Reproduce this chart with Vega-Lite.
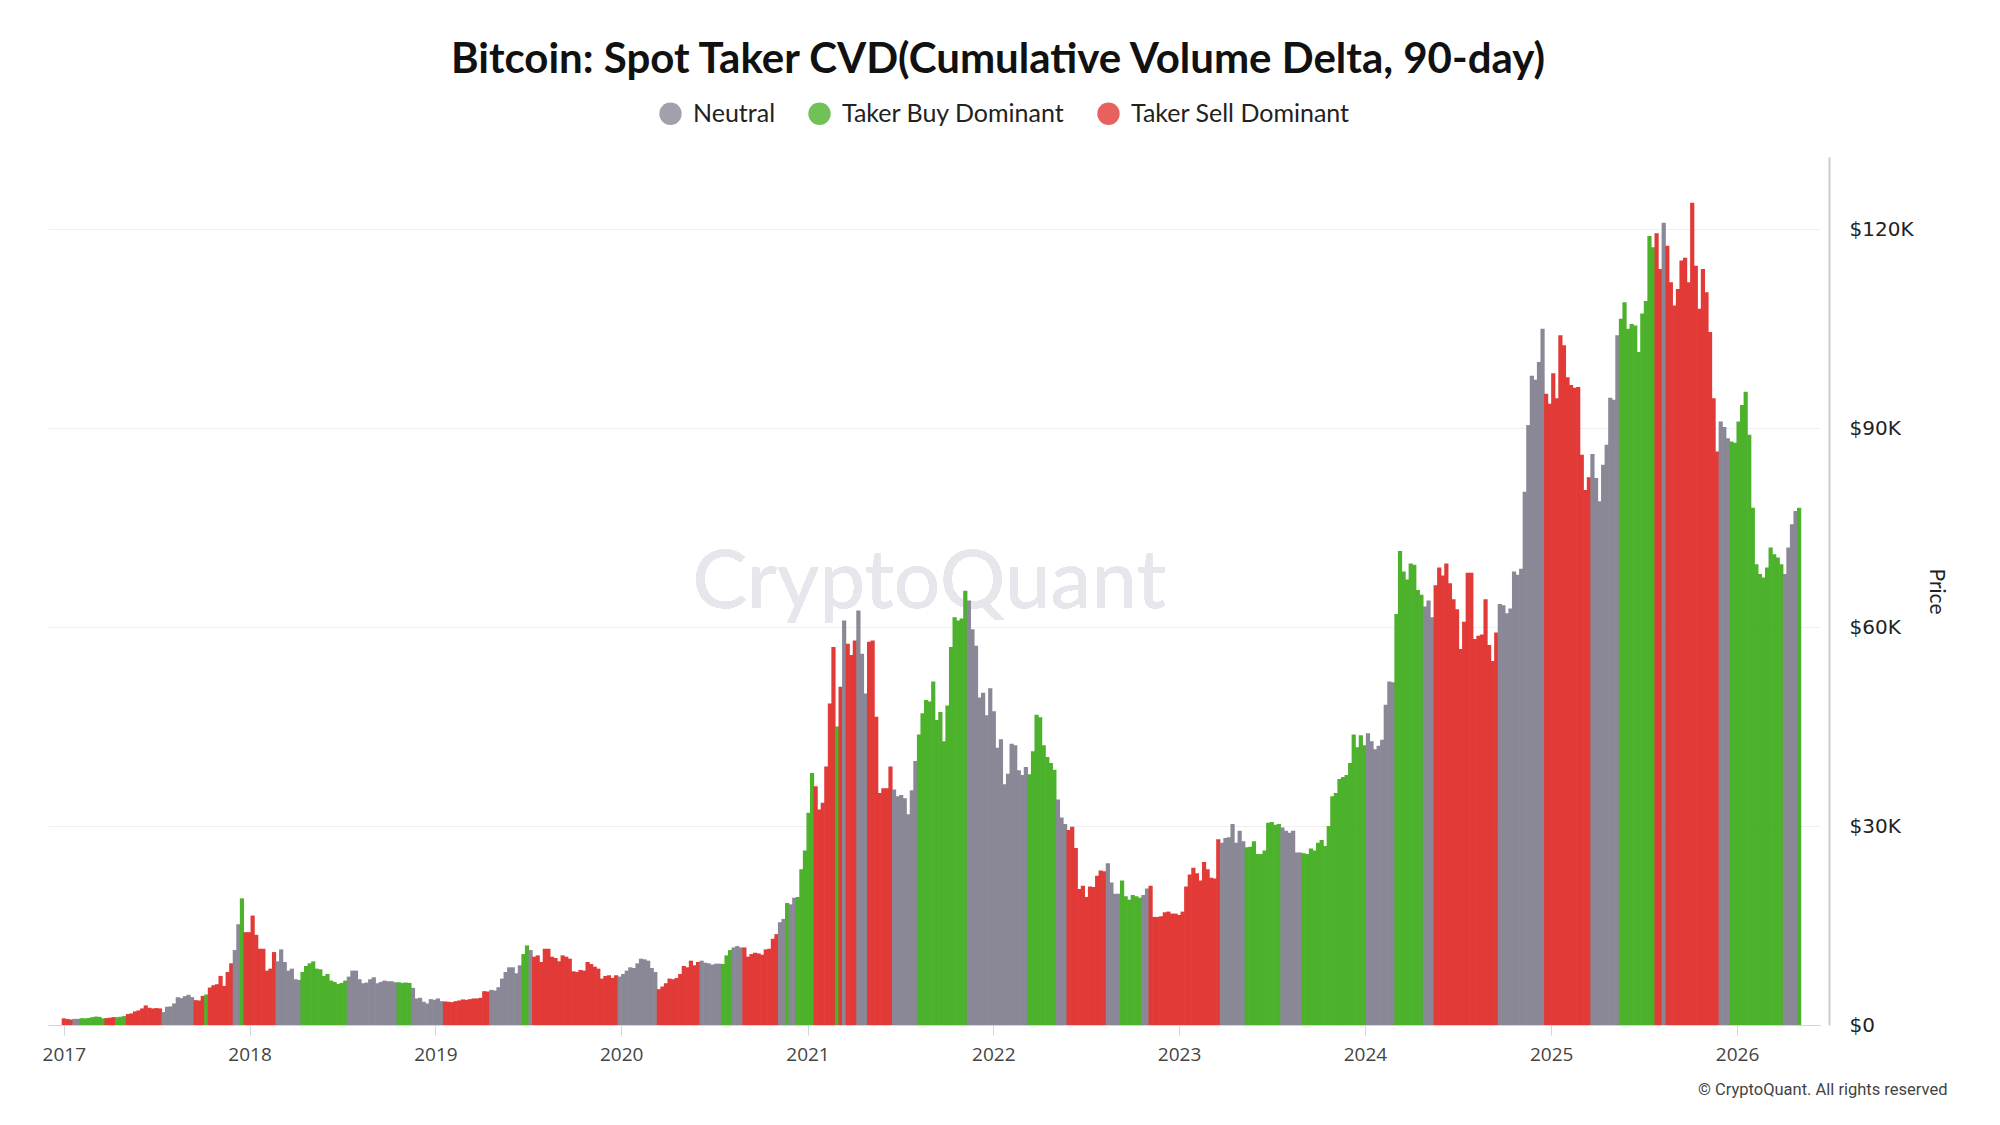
{
"$schema":"https://vega.github.io/schema/vega-lite/v6.json",
"width":1772,"height":868,
"autosize":{"type":"none"},
"padding":{"left":48,"top":157,"right":180,"bottom":100},
"background":"white",
"title":{"text":"Bitcoin: Spot Taker CVD(Cumulative Volume Delta, 90-day)","font":"Lato","fontSize":42,"fontWeight":"bold","color":"#111111","anchor":"middle","frame":"group","dx":64,"offset":19},
"config":{"view":{"stroke":null}},
"data":{"values":[
{"d":"2017-01-01","p":1000,"c":"S"},{"d":"2017-01-08","p":900,"c":"S"},{"d":"2017-01-15","p":820,"c":"S"},{"d":"2017-01-22","p":920,"c":"N"},{"d":"2017-01-29","p":920,"c":"N"},
{"d":"2017-02-05","p":1020,"c":"B"},{"d":"2017-02-12","p":1000,"c":"B"},{"d":"2017-02-19","p":1050,"c":"B"},{"d":"2017-02-26","p":1180,"c":"B"},{"d":"2017-03-05","p":1270,"c":"B"},{"d":"2017-03-12","p":1230,"c":"B"},{"d":"2017-03-19","p":1000,"c":"B"},
{"d":"2017-03-26","p":1040,"c":"S"},{"d":"2017-04-02","p":1100,"c":"S"},{"d":"2017-04-09","p":1190,"c":"S"},{"d":"2017-04-16","p":1180,"c":"B"},{"d":"2017-04-23","p":1250,"c":"B"},{"d":"2017-04-30","p":1350,"c":"B"},
{"d":"2017-05-07","p":1650,"c":"S"},{"d":"2017-05-14","p":1750,"c":"S"},{"d":"2017-05-21","p":2050,"c":"S"},{"d":"2017-05-28","p":2200,"c":"S"},{"d":"2017-06-04","p":2500,"c":"S"},{"d":"2017-06-11","p":2950,"c":"S"},{"d":"2017-06-18","p":2600,"c":"S"},{"d":"2017-06-25","p":2500,"c":"S"},{"d":"2017-07-02","p":2550,"c":"S"},{"d":"2017-07-09","p":2500,"c":"S"},
{"d":"2017-07-16","p":1950,"c":"N"},{"d":"2017-07-23","p":2750,"c":"N"},{"d":"2017-07-30","p":2800,"c":"N"},{"d":"2017-08-06","p":3250,"c":"N"},{"d":"2017-08-13","p":4200,"c":"N"},{"d":"2017-08-20","p":4050,"c":"N"},{"d":"2017-08-27","p":4350,"c":"N"},{"d":"2017-09-03","p":4550,"c":"N"},{"d":"2017-09-10","p":4200,"c":"N"},
{"d":"2017-09-17","p":3750,"c":"S"},{"d":"2017-09-24","p":3700,"c":"S"},{"d":"2017-10-01","p":4400,"c":"S"},{"d":"2017-10-08","p":4600,"c":"B"},{"d":"2017-10-15","p":5650,"c":"S"},{"d":"2017-10-22","p":6000,"c":"S"},{"d":"2017-10-29","p":6150,"c":"S"},{"d":"2017-11-05","p":7400,"c":"S"},{"d":"2017-11-12","p":5900,"c":"S"},{"d":"2017-11-19","p":8000,"c":"S"},{"d":"2017-11-26","p":9300,"c":"S"},
{"d":"2017-12-03","p":11300,"c":"N"},{"d":"2017-12-10","p":15200,"c":"N"},{"d":"2017-12-17","p":19100,"c":"B"},{"d":"2017-12-24","p":14000,"c":"S"},{"d":"2017-12-31","p":14000,"c":"S"},
{"d":"2018-01-07","p":16500,"c":"S"},{"d":"2018-01-14","p":13600,"c":"S"},{"d":"2018-01-21","p":11500,"c":"S"},{"d":"2018-01-28","p":11500,"c":"S"},{"d":"2018-02-04","p":8200,"c":"S"},{"d":"2018-02-11","p":8500,"c":"S"},{"d":"2018-02-18","p":11000,"c":"S"},
{"d":"2018-02-25","p":9600,"c":"N"},{"d":"2018-03-04","p":11400,"c":"N"},{"d":"2018-03-11","p":9500,"c":"N"},{"d":"2018-03-18","p":8200,"c":"N"},{"d":"2018-03-25","p":8500,"c":"N"},{"d":"2018-04-01","p":6900,"c":"N"},{"d":"2018-04-08","p":6800,"c":"N"},
{"d":"2018-04-15","p":8000,"c":"B"},{"d":"2018-04-22","p":8900,"c":"B"},{"d":"2018-04-29","p":9300,"c":"B"},{"d":"2018-05-06","p":9600,"c":"B"},{"d":"2018-05-13","p":8500,"c":"B"},{"d":"2018-05-20","p":8400,"c":"B"},{"d":"2018-05-27","p":7400,"c":"B"},{"d":"2018-06-03","p":7700,"c":"B"},{"d":"2018-06-10","p":6700,"c":"B"},{"d":"2018-06-17","p":6500,"c":"B"},{"d":"2018-06-24","p":6200,"c":"B"},{"d":"2018-07-01","p":6350,"c":"B"},{"d":"2018-07-08","p":6700,"c":"B"},
{"d":"2018-07-15","p":7300,"c":"N"},{"d":"2018-07-22","p":8200,"c":"N"},{"d":"2018-07-29","p":8200,"c":"N"},{"d":"2018-08-05","p":6900,"c":"N"},{"d":"2018-08-12","p":6300,"c":"N"},{"d":"2018-08-19","p":6400,"c":"N"},{"d":"2018-08-26","p":6900,"c":"N"},{"d":"2018-09-02","p":7200,"c":"N"},{"d":"2018-09-09","p":6300,"c":"N"},{"d":"2018-09-16","p":6500,"c":"N"},{"d":"2018-09-23","p":6700,"c":"N"},{"d":"2018-09-30","p":6600,"c":"N"},{"d":"2018-10-07","p":6600,"c":"N"},{"d":"2018-10-14","p":6450,"c":"N"},
{"d":"2018-10-21","p":6450,"c":"B"},{"d":"2018-10-28","p":6350,"c":"B"},{"d":"2018-11-04","p":6400,"c":"B"},{"d":"2018-11-11","p":6350,"c":"B"},
{"d":"2018-11-18","p":5600,"c":"N"},{"d":"2018-11-25","p":4000,"c":"N"},{"d":"2018-12-02","p":4100,"c":"N"},{"d":"2018-12-09","p":3500,"c":"N"},{"d":"2018-12-16","p":3250,"c":"N"},{"d":"2018-12-23","p":3900,"c":"N"},{"d":"2018-12-30","p":3800,"c":"N"},
{"d":"2019-01-06","p":4000,"c":"N"},{"d":"2019-01-13","p":3600,"c":"N"},
{"d":"2019-01-20","p":3550,"c":"S"},{"d":"2019-01-27","p":3500,"c":"S"},{"d":"2019-02-03","p":3450,"c":"S"},{"d":"2019-02-10","p":3600,"c":"S"},{"d":"2019-02-17","p":3700,"c":"S"},{"d":"2019-02-24","p":3850,"c":"S"},{"d":"2019-03-03","p":3800,"c":"S"},{"d":"2019-03-10","p":3900,"c":"S"},{"d":"2019-03-17","p":4000,"c":"S"},{"d":"2019-03-24","p":4000,"c":"S"},{"d":"2019-03-31","p":4100,"c":"S"},{"d":"2019-04-07","p":5100,"c":"S"},{"d":"2019-04-14","p":5050,"c":"S"},
{"d":"2019-04-21","p":5300,"c":"N"},{"d":"2019-04-28","p":5200,"c":"N"},{"d":"2019-05-05","p":5700,"c":"N"},{"d":"2019-05-12","p":7000,"c":"N"},{"d":"2019-05-19","p":8000,"c":"N"},{"d":"2019-05-26","p":8700,"c":"N"},{"d":"2019-06-02","p":8700,"c":"N"},{"d":"2019-06-09","p":7800,"c":"N"},{"d":"2019-06-16","p":9000,"c":"N"},
{"d":"2019-06-23","p":10700,"c":"B"},{"d":"2019-06-30","p":12000,"c":"B"},{"d":"2019-07-07","p":11300,"c":"N"},
{"d":"2019-07-14","p":10300,"c":"S"},{"d":"2019-07-21","p":10500,"c":"S"},{"d":"2019-07-28","p":9500,"c":"S"},{"d":"2019-08-04","p":11500,"c":"S"},{"d":"2019-08-11","p":11500,"c":"S"},{"d":"2019-08-18","p":10300,"c":"S"},{"d":"2019-08-25","p":10100,"c":"S"},{"d":"2019-09-01","p":9600,"c":"S"},{"d":"2019-09-08","p":10500,"c":"S"},{"d":"2019-09-15","p":10300,"c":"S"},{"d":"2019-09-22","p":10000,"c":"S"},{"d":"2019-09-29","p":8100,"c":"S"},{"d":"2019-10-06","p":8000,"c":"S"},{"d":"2019-10-13","p":8300,"c":"S"},{"d":"2019-10-20","p":8200,"c":"S"},{"d":"2019-10-27","p":9500,"c":"S"},{"d":"2019-11-03","p":9200,"c":"S"},{"d":"2019-11-10","p":8800,"c":"S"},{"d":"2019-11-17","p":8500,"c":"S"},{"d":"2019-11-24","p":7000,"c":"S"},{"d":"2019-12-01","p":7400,"c":"S"},{"d":"2019-12-08","p":7500,"c":"S"},{"d":"2019-12-15","p":7100,"c":"S"},{"d":"2019-12-22","p":7500,"c":"S"},
{"d":"2019-12-29","p":7300,"c":"N"},{"d":"2020-01-05","p":7700,"c":"N"},{"d":"2020-01-12","p":8200,"c":"N"},{"d":"2020-01-19","p":8700,"c":"N"},{"d":"2020-01-26","p":8600,"c":"N"},{"d":"2020-02-02","p":9300,"c":"N"},{"d":"2020-02-09","p":10000,"c":"N"},{"d":"2020-02-16","p":9900,"c":"N"},{"d":"2020-02-23","p":9700,"c":"N"},{"d":"2020-03-01","p":8600,"c":"N"},{"d":"2020-03-08","p":8000,"c":"N"},
{"d":"2020-03-15","p":5400,"c":"S"},{"d":"2020-03-22","p":5800,"c":"S"},{"d":"2020-03-29","p":6300,"c":"S"},{"d":"2020-04-05","p":7000,"c":"S"},{"d":"2020-04-12","p":6900,"c":"S"},{"d":"2020-04-19","p":7100,"c":"S"},{"d":"2020-04-26","p":7700,"c":"S"},{"d":"2020-05-03","p":8900,"c":"S"},{"d":"2020-05-10","p":8700,"c":"S"},{"d":"2020-05-17","p":9700,"c":"S"},{"d":"2020-05-24","p":9000,"c":"S"},{"d":"2020-05-31","p":9500,"c":"S"},
{"d":"2020-06-07","p":9700,"c":"N"},{"d":"2020-06-14","p":9400,"c":"N"},{"d":"2020-06-21","p":9300,"c":"N"},{"d":"2020-06-28","p":9100,"c":"N"},{"d":"2020-07-05","p":9250,"c":"N"},{"d":"2020-07-12","p":9250,"c":"N"},
{"d":"2020-07-19","p":9200,"c":"B"},{"d":"2020-07-26","p":10500,"c":"B"},{"d":"2020-08-02","p":11300,"c":"B"},{"d":"2020-08-09","p":11700,"c":"N"},{"d":"2020-08-16","p":11900,"c":"N"},{"d":"2020-08-23","p":11700,"c":"N"},
{"d":"2020-08-30","p":11700,"c":"S"},{"d":"2020-09-06","p":10300,"c":"S"},{"d":"2020-09-13","p":10700,"c":"S"},{"d":"2020-09-20","p":10900,"c":"S"},{"d":"2020-09-27","p":10800,"c":"S"},{"d":"2020-10-04","p":10600,"c":"S"},{"d":"2020-10-11","p":11400,"c":"S"},{"d":"2020-10-18","p":11500,"c":"S"},{"d":"2020-10-25","p":13000,"c":"S"},{"d":"2020-11-01","p":13700,"c":"S"},
{"d":"2020-11-08","p":15500,"c":"N"},{"d":"2020-11-15","p":16000,"c":"N"},{"d":"2020-11-22","p":18400,"c":"B"},{"d":"2020-11-29","p":18200,"c":"N"},{"d":"2020-12-06","p":19200,"c":"N"},
{"d":"2020-12-13","p":19300,"c":"B"},{"d":"2020-12-20","p":23500,"c":"B"},{"d":"2020-12-27","p":26300,"c":"B"},{"d":"2021-01-03","p":32000,"c":"B"},{"d":"2021-01-10","p":38000,"c":"B"},
{"d":"2021-01-17","p":36000,"c":"S"},{"d":"2021-01-24","p":32500,"c":"S"},{"d":"2021-01-31","p":33500,"c":"S"},{"d":"2021-02-07","p":39000,"c":"S"},{"d":"2021-02-14","p":48500,"c":"S"},{"d":"2021-02-21","p":57000,"c":"S"},
{"d":"2021-02-28","p":45000,"c":"B"},{"d":"2021-03-07","p":51000,"c":"S"},{"d":"2021-03-14","p":61000,"c":"N"},{"d":"2021-03-21","p":57500,"c":"S"},{"d":"2021-03-28","p":55800,"c":"S"},{"d":"2021-04-04","p":58000,"c":"S"},
{"d":"2021-04-11","p":62500,"c":"N"},{"d":"2021-04-18","p":56000,"c":"N"},{"d":"2021-04-25","p":50000,"c":"N"},
{"d":"2021-05-02","p":57800,"c":"S"},{"d":"2021-05-09","p":58000,"c":"S"},{"d":"2021-05-16","p":46500,"c":"S"},{"d":"2021-05-23","p":35000,"c":"S"},{"d":"2021-05-30","p":35700,"c":"S"},{"d":"2021-06-06","p":35700,"c":"S"},{"d":"2021-06-13","p":39000,"c":"S"},
{"d":"2021-06-20","p":35500,"c":"N"},{"d":"2021-06-27","p":34500,"c":"N"},{"d":"2021-07-04","p":34700,"c":"N"},{"d":"2021-07-11","p":34200,"c":"N"},{"d":"2021-07-18","p":31800,"c":"N"},{"d":"2021-07-25","p":35400,"c":"N"},{"d":"2021-08-01","p":39800,"c":"N"},
{"d":"2021-08-08","p":43800,"c":"B"},{"d":"2021-08-15","p":47000,"c":"B"},{"d":"2021-08-22","p":49000,"c":"B"},{"d":"2021-08-29","p":48800,"c":"B"},{"d":"2021-09-05","p":51800,"c":"B"},{"d":"2021-09-12","p":46000,"c":"B"},{"d":"2021-09-19","p":47200,"c":"B"},{"d":"2021-09-26","p":42800,"c":"B"},{"d":"2021-10-03","p":48200,"c":"B"},{"d":"2021-10-10","p":57000,"c":"B"},{"d":"2021-10-17","p":61500,"c":"B"},{"d":"2021-10-24","p":61000,"c":"B"},{"d":"2021-10-31","p":61300,"c":"B"},{"d":"2021-11-07","p":65500,"c":"B"},
{"d":"2021-11-14","p":64000,"c":"N"},{"d":"2021-11-21","p":59700,"c":"N"},{"d":"2021-11-28","p":57200,"c":"N"},{"d":"2021-12-05","p":49400,"c":"N"},{"d":"2021-12-12","p":50100,"c":"N"},{"d":"2021-12-19","p":46700,"c":"N"},{"d":"2021-12-26","p":50800,"c":"N"},
{"d":"2022-01-02","p":47300,"c":"N"},{"d":"2022-01-09","p":41800,"c":"N"},{"d":"2022-01-16","p":43100,"c":"N"},{"d":"2022-01-23","p":36300,"c":"N"},{"d":"2022-01-30","p":37900,"c":"N"},{"d":"2022-02-06","p":42400,"c":"N"},{"d":"2022-02-13","p":42200,"c":"N"},{"d":"2022-02-20","p":38400,"c":"N"},{"d":"2022-02-27","p":37700,"c":"N"},{"d":"2022-03-06","p":38900,"c":"N"},
{"d":"2022-03-13","p":37800,"c":"B"},{"d":"2022-03-20","p":41300,"c":"B"},{"d":"2022-03-27","p":46800,"c":"B"},{"d":"2022-04-03","p":46400,"c":"B"},{"d":"2022-04-10","p":42200,"c":"B"},{"d":"2022-04-17","p":40400,"c":"B"},{"d":"2022-04-24","p":39500,"c":"B"},{"d":"2022-05-01","p":38500,"c":"B"},
{"d":"2022-05-08","p":34000,"c":"N"},{"d":"2022-05-15","p":31300,"c":"N"},{"d":"2022-05-22","p":30300,"c":"N"},
{"d":"2022-05-29","p":29400,"c":"S"},{"d":"2022-06-05","p":29900,"c":"S"},{"d":"2022-06-12","p":26700,"c":"S"},{"d":"2022-06-19","p":20500,"c":"S"},{"d":"2022-06-26","p":21000,"c":"S"},{"d":"2022-07-03","p":19300,"c":"S"},{"d":"2022-07-10","p":20900,"c":"S"},{"d":"2022-07-17","p":20800,"c":"S"},{"d":"2022-07-24","p":22500,"c":"S"},{"d":"2022-07-31","p":23300,"c":"S"},{"d":"2022-08-07","p":23200,"c":"S"},
{"d":"2022-08-14","p":24400,"c":"N"},{"d":"2022-08-21","p":21500,"c":"N"},{"d":"2022-08-28","p":19800,"c":"N"},{"d":"2022-09-04","p":19800,"c":"N"},
{"d":"2022-09-11","p":21800,"c":"B"},{"d":"2022-09-18","p":19400,"c":"B"},{"d":"2022-09-25","p":18900,"c":"B"},{"d":"2022-10-02","p":19600,"c":"B"},{"d":"2022-10-09","p":19400,"c":"B"},{"d":"2022-10-16","p":19200,"c":"B"},
{"d":"2022-10-23","p":19600,"c":"N"},{"d":"2022-10-30","p":20600,"c":"N"},
{"d":"2022-11-06","p":21000,"c":"S"},{"d":"2022-11-13","p":16300,"c":"S"},{"d":"2022-11-20","p":16300,"c":"S"},{"d":"2022-11-27","p":16400,"c":"S"},{"d":"2022-12-04","p":17000,"c":"S"},{"d":"2022-12-11","p":17100,"c":"S"},{"d":"2022-12-18","p":16800,"c":"S"},{"d":"2022-12-25","p":16800,"c":"S"},
{"d":"2023-01-01","p":16600,"c":"S"},{"d":"2023-01-08","p":17100,"c":"S"},{"d":"2023-01-15","p":20900,"c":"S"},{"d":"2023-01-22","p":22700,"c":"S"},{"d":"2023-01-29","p":23700,"c":"S"},{"d":"2023-02-05","p":22900,"c":"S"},{"d":"2023-02-12","p":21800,"c":"S"},{"d":"2023-02-19","p":24600,"c":"S"},{"d":"2023-02-26","p":23500,"c":"S"},{"d":"2023-03-05","p":22200,"c":"S"},{"d":"2023-03-12","p":22100,"c":"S"},{"d":"2023-03-19","p":28000,"c":"S"},
{"d":"2023-03-26","p":27500,"c":"N"},{"d":"2023-04-02","p":28200,"c":"N"},{"d":"2023-04-09","p":28300,"c":"N"},{"d":"2023-04-16","p":30300,"c":"N"},{"d":"2023-04-23","p":27500,"c":"N"},{"d":"2023-04-30","p":29300,"c":"N"},{"d":"2023-05-07","p":27700,"c":"N"},
{"d":"2023-05-14","p":26800,"c":"B"},{"d":"2023-05-21","p":26900,"c":"B"},{"d":"2023-05-28","p":27700,"c":"B"},{"d":"2023-06-04","p":25800,"c":"B"},{"d":"2023-06-11","p":25800,"c":"B"},{"d":"2023-06-18","p":26300,"c":"B"},{"d":"2023-06-25","p":30500,"c":"B"},{"d":"2023-07-02","p":30600,"c":"B"},{"d":"2023-07-09","p":30200,"c":"B"},{"d":"2023-07-16","p":30300,"c":"B"},
{"d":"2023-07-23","p":29800,"c":"N"},{"d":"2023-07-30","p":29300,"c":"N"},{"d":"2023-08-06","p":29000,"c":"N"},{"d":"2023-08-13","p":29300,"c":"N"},{"d":"2023-08-20","p":26000,"c":"N"},{"d":"2023-08-27","p":26000,"c":"N"},
{"d":"2023-09-03","p":25900,"c":"B"},{"d":"2023-09-10","p":25800,"c":"B"},{"d":"2023-09-17","p":26600,"c":"B"},{"d":"2023-09-24","p":26300,"c":"B"},{"d":"2023-10-01","p":27500,"c":"B"},{"d":"2023-10-08","p":27900,"c":"B"},{"d":"2023-10-15","p":27000,"c":"B"},{"d":"2023-10-22","p":30000,"c":"B"},{"d":"2023-10-29","p":34500,"c":"B"},{"d":"2023-11-05","p":35000,"c":"B"},{"d":"2023-11-12","p":37100,"c":"B"},{"d":"2023-11-19","p":37400,"c":"B"},{"d":"2023-11-26","p":37700,"c":"B"},{"d":"2023-12-03","p":39500,"c":"B"},{"d":"2023-12-10","p":43800,"c":"B"},{"d":"2023-12-17","p":41900,"c":"B"},{"d":"2023-12-24","p":43700,"c":"B"},{"d":"2023-12-31","p":42200,"c":"B"},
{"d":"2024-01-07","p":44000,"c":"N"},{"d":"2024-01-14","p":42800,"c":"N"},{"d":"2024-01-21","p":41600,"c":"N"},{"d":"2024-01-28","p":42100,"c":"N"},{"d":"2024-02-04","p":43000,"c":"N"},{"d":"2024-02-11","p":48300,"c":"N"},{"d":"2024-02-18","p":51800,"c":"N"},{"d":"2024-02-25","p":51700,"c":"N"},
{"d":"2024-03-03","p":62000,"c":"B"},{"d":"2024-03-10","p":71500,"c":"B"},{"d":"2024-03-17","p":68400,"c":"B"},{"d":"2024-03-24","p":67200,"c":"B"},{"d":"2024-03-31","p":69600,"c":"B"},{"d":"2024-04-07","p":69400,"c":"B"},{"d":"2024-04-14","p":65600,"c":"B"},{"d":"2024-04-21","p":64900,"c":"B"},
{"d":"2024-04-28","p":63100,"c":"N"},{"d":"2024-05-05","p":64000,"c":"N"},{"d":"2024-05-12","p":61500,"c":"N"},
{"d":"2024-05-19","p":66300,"c":"S"},{"d":"2024-05-26","p":69000,"c":"S"},{"d":"2024-06-02","p":67800,"c":"S"},{"d":"2024-06-09","p":69600,"c":"S"},{"d":"2024-06-16","p":66600,"c":"S"},{"d":"2024-06-23","p":64200,"c":"S"},{"d":"2024-06-30","p":62700,"c":"S"},{"d":"2024-07-07","p":56700,"c":"S"},{"d":"2024-07-14","p":60800,"c":"S"},{"d":"2024-07-21","p":68200,"c":"S"},{"d":"2024-07-28","p":68200,"c":"S"},{"d":"2024-08-04","p":58200,"c":"S"},{"d":"2024-08-11","p":58700,"c":"S"},{"d":"2024-08-18","p":58900,"c":"S"},{"d":"2024-08-25","p":64200,"c":"S"},{"d":"2024-09-01","p":57300,"c":"S"},{"d":"2024-09-08","p":54900,"c":"S"},{"d":"2024-09-15","p":59200,"c":"S"},
{"d":"2024-09-22","p":63500,"c":"N"},{"d":"2024-09-29","p":63300,"c":"N"},{"d":"2024-10-06","p":62100,"c":"N"},{"d":"2024-10-13","p":62800,"c":"N"},{"d":"2024-10-20","p":68400,"c":"N"},{"d":"2024-10-27","p":67900,"c":"N"},{"d":"2024-11-03","p":68800,"c":"N"},{"d":"2024-11-10","p":80400,"c":"N"},{"d":"2024-11-17","p":90500,"c":"N"},{"d":"2024-11-24","p":97900,"c":"N"},{"d":"2024-12-01","p":97300,"c":"N"},{"d":"2024-12-08","p":100000,"c":"N"},{"d":"2024-12-15","p":105000,"c":"N"},
{"d":"2024-12-22","p":95200,"c":"S"},{"d":"2024-12-29","p":93700,"c":"S"},{"d":"2025-01-05","p":98300,"c":"S"},{"d":"2025-01-12","p":94500,"c":"S"},{"d":"2025-01-19","p":104000,"c":"S"},{"d":"2025-01-26","p":102500,"c":"S"},{"d":"2025-02-02","p":97700,"c":"S"},{"d":"2025-02-09","p":96500,"c":"S"},{"d":"2025-02-16","p":96100,"c":"S"},{"d":"2025-02-23","p":96200,"c":"S"},{"d":"2025-03-02","p":86000,"c":"S"},{"d":"2025-03-09","p":80700,"c":"S"},{"d":"2025-03-16","p":82600,"c":"S"},
{"d":"2025-03-23","p":86100,"c":"N"},{"d":"2025-03-30","p":82500,"c":"N"},{"d":"2025-04-06","p":79000,"c":"N"},{"d":"2025-04-13","p":84500,"c":"N"},{"d":"2025-04-20","p":87500,"c":"N"},{"d":"2025-04-27","p":94600,"c":"N"},{"d":"2025-05-04","p":94300,"c":"N"},{"d":"2025-05-11","p":104000,"c":"N"},
{"d":"2025-05-18","p":106500,"c":"B"},{"d":"2025-05-25","p":109000,"c":"B"},{"d":"2025-06-01","p":105000,"c":"B"},{"d":"2025-06-08","p":105700,"c":"B"},{"d":"2025-06-15","p":105500,"c":"B"},{"d":"2025-06-22","p":101500,"c":"B"},{"d":"2025-06-29","p":107300,"c":"B"},{"d":"2025-07-06","p":109200,"c":"B"},{"d":"2025-07-13","p":119000,"c":"B"},{"d":"2025-07-20","p":117300,"c":"B"},
{"d":"2025-07-27","p":119400,"c":"S"},{"d":"2025-08-03","p":114000,"c":"S"},{"d":"2025-08-10","p":121000,"c":"N"},
{"d":"2025-08-17","p":117500,"c":"S"},{"d":"2025-08-24","p":112000,"c":"S"},{"d":"2025-08-31","p":108500,"c":"S"},{"d":"2025-09-07","p":111000,"c":"S"},{"d":"2025-09-14","p":115300,"c":"S"},{"d":"2025-09-21","p":115700,"c":"S"},{"d":"2025-09-28","p":112000,"c":"S"},{"d":"2025-10-05","p":124000,"c":"S"},{"d":"2025-10-12","p":114500,"c":"S"},{"d":"2025-10-19","p":108000,"c":"S"},{"d":"2025-10-26","p":114000,"c":"S"},{"d":"2025-11-02","p":110500,"c":"S"},{"d":"2025-11-09","p":104500,"c":"S"},{"d":"2025-11-16","p":94500,"c":"S"},{"d":"2025-11-23","p":86500,"c":"S"},
{"d":"2025-11-30","p":91000,"c":"N"},{"d":"2025-12-07","p":90200,"c":"N"},{"d":"2025-12-14","p":88500,"c":"N"},
{"d":"2025-12-21","p":88000,"c":"B"},{"d":"2025-12-28","p":87800,"c":"B"},{"d":"2026-01-04","p":91000,"c":"B"},{"d":"2026-01-11","p":93500,"c":"B"},{"d":"2026-01-18","p":95500,"c":"B"},{"d":"2026-01-25","p":89000,"c":"B"},{"d":"2026-02-01","p":78000,"c":"B"},{"d":"2026-02-08","p":69500,"c":"B"},{"d":"2026-02-15","p":68000,"c":"B"},{"d":"2026-02-22","p":67500,"c":"B"},{"d":"2026-03-01","p":69000,"c":"B"},{"d":"2026-03-08","p":72000,"c":"B"},{"d":"2026-03-15","p":71000,"c":"B"},{"d":"2026-03-22","p":70500,"c":"B"},{"d":"2026-03-29","p":69500,"c":"B"},
{"d":"2026-04-05","p":68000,"c":"N"},{"d":"2026-04-12","p":72000,"c":"N"},{"d":"2026-04-19","p":75500,"c":"N"},{"d":"2026-04-26","p":77500,"c":"N"},{"d":"2026-05-03","p":78000,"c":"B"}
]},
"layer":[
{"mark":{"type":"text","font":"Lato","fontSize":82,"color":"#e6e6ec","align":"center","baseline":"middle"},
 "encoding":{
  "x":{"datum":{"year":2021,"month":8,"date":28,"utc":true},"type":"temporal",
   "scale":{"type":"utc","padding":0,"domain":[{"year":2016,"month":12,"date":1,"utc":true},{"year":2026,"month":6,"date":13,"utc":true}]},
   "axis":{"title":"© CryptoQuant. All rights reserved","titleFont":"Roboto","titleFontSize":16.5,"titleFontWeight":"normal","titleColor":"#444444","titleAnchor":"end","titleAlign":"right","titleBaseline":"middle","titleX":1899,"titleY":64,
     "format":"%Y","tickCount":{"interval":"year","step":1},"grid":false,"domainColor":"#cfd6e0","tickColor":"#cfd6e0","tickSize":10,
     "labelFont":"Open Sans","labelFontSize":19,"labelColor":"#444444","labelPadding":10,"labelFlush":false}},
  "y":{"datum":66600,"type":"quantitative",
   "scale":{"domain":[0,130900],"nice":false,"zero":true},
   "axis":{"orient":"right","title":"Price","titleFont":"Lato","titleFontSize":21,"titleFontWeight":"normal","titleColor":"#222222","titlePadding":12,
     "offset":9,"values":[0,30000,60000,90000,120000],"labelExpr":"datum.value == 0 ? '$0' : '$' + (datum.value/1000) + 'K'",
     "labelFont":"DejaVu Sans","labelFontSize":20,"labelColor":"#222222","labelPadding":20,"ticks":false,
     "domain":true,"domainColor":"#cccccc","domainWidth":2,"grid":true,"gridColor":"#efefef","gridWidth":1}},
  "text":{"value":"CryptoQuant"}}},
{"mark":{"type":"bar","width":4.2},
 "encoding":{
  "x":{"field":"d","type":"temporal",
   "scale":{"type":"utc","padding":0,"domain":[{"year":2016,"month":12,"date":1,"utc":true},{"year":2026,"month":6,"date":13,"utc":true}]},
   "axis":{"title":"© CryptoQuant. All rights reserved","titleFont":"Roboto","titleFontSize":16.5,"titleFontWeight":"normal","titleColor":"#444444","titleAnchor":"end","titleAlign":"right","titleBaseline":"middle","titleX":1899,"titleY":64,
     "format":"%Y","tickCount":{"interval":"year","step":1},"grid":false,"domainColor":"#cfd6e0","tickColor":"#cfd6e0","tickSize":10,
     "labelFont":"Open Sans","labelFontSize":19,"labelColor":"#444444","labelPadding":10,"labelFlush":false}},
  "y":{"field":"p","type":"quantitative",
   "scale":{"domain":[0,130900],"nice":false,"zero":true},
   "axis":{"orient":"right","title":"Price","titleFont":"Lato","titleFontSize":21,"titleFontWeight":"normal","titleColor":"#222222","titlePadding":12,
     "offset":9,"values":[0,30000,60000,90000,120000],"labelExpr":"datum.value == 0 ? '$0' : '$' + (datum.value/1000) + 'K'",
     "labelFont":"DejaVu Sans","labelFontSize":20,"labelColor":"#222222","labelPadding":20,"ticks":false,
     "domain":true,"domainColor":"#cccccc","domainWidth":2,"grid":true,"gridColor":"#efefef","gridWidth":1}},
  "color":{"field":"c","type":"nominal",
   "scale":{"domain":["N","B","S"],"range":["#8a8896","#4cb22c","#e13a37"]},
   "legend":{"orient":"none","legendX":610,"legendY":-56,"direction":"horizontal","title":null,"padding":0,
     "symbolType":"circle","symbolSize":500,"symbolStrokeWidth":0,"symbolOpacity":0.8,
     "labelFont":"Lato","labelFontSize":25,"labelColor":"#222222","labelOffset":10,"columnPadding":31,"labelLimit":400,
     "labelExpr":"datum.label == 'N' ? 'Neutral' : datum.label == 'B' ? 'Taker Buy Dominant' : 'Taker Sell Dominant'"}}}}
]
}
